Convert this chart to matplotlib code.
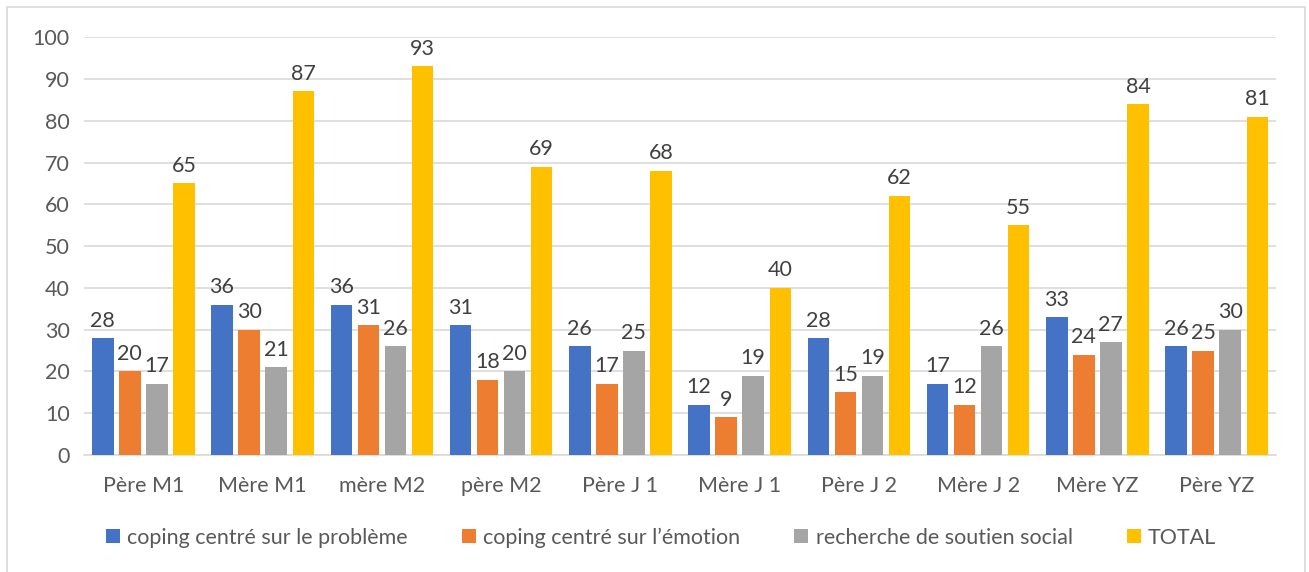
import matplotlib
matplotlib.use("Agg")
import matplotlib.pyplot as plt
from matplotlib.patches import Rectangle
import numpy as np

plt.rcParams["font.family"] = ["Lato", "DejaVu Sans"]

CATEGORIES = ["Père M1", "Mère M1", "mère M2", "père M2", "Père J 1",
              "Mère J 1", "Père J 2", "Mère J 2", "Mère YZ", "Père YZ"]
SERIES = ["coping centré sur le problème", "coping centré sur l\u2019émotion",
          "recherche de soutien social", "TOTAL"]
PROBLEME = [28, 36, 36, 31, 26, 12, 28, 17, 33, 26]
EMOTION = [20, 30, 31, 18, 17, 9, 15, 12, 24, 25]
SOUTIEN = [17, 21, 26, 20, 25, 19, 19, 26, 27, 30]
TOTAL = [65, 87, 93, 69, 68, 40, 62, 55, 84, 81]
COLORS = ["#4472C4", "#ED7D31", "#A5A5A5", "#FFC000"]

FS = 15.5

fig = plt.figure(figsize=(13.09, 5.72), dpi=100)
ax = fig.add_axes([0.064, 0.2045, 0.911, 0.7305])

x = np.arange(len(CATEGORIES))
width = 0.18
step = 0.227
values = [PROBLEME, EMOTION, SOUTIEN, TOTAL]
for i, (name, vals, col) in enumerate(zip(SERIES, values, COLORS)):
    pos = x + (i - 1.5) * step
    ax.bar(pos, vals, width, color=col, label=name, zorder=3)
    for xi, v in zip(pos, vals):
        ax.text(xi, v + 1.8, str(v), ha="center", va="bottom",
                fontsize=FS, color="#404040")

ax.set_xlim(-0.5, len(CATEGORIES) - 0.5)
ax.set_ylim(0, 100)
ax.set_yticks(range(0, 101, 10))
ax.set_xticks(x)
ax.set_xticklabels(CATEGORIES)
ax.tick_params(axis="both", length=0, labelsize=FS, labelcolor="#595959")
ax.tick_params(axis="x", pad=15)
ax.tick_params(axis="y", pad=10)
ax.grid(axis="y", color="#D9D9D9", linewidth=1.2, zorder=0)
for side in ["top", "right", "left"]:
    ax.spines[side].set_visible(False)
ax.spines["bottom"].set_color("#D9D9D9")
ax.spines["bottom"].set_linewidth(1.2)

leg = fig.legend(loc="center", bbox_to_anchor=(0.505, 0.06), ncol=4,
                 frameon=False, fontsize=FS, handlelength=0.65,
                 handleheight=0.65, handletextpad=0.35, columnspacing=2.5)
for t in leg.get_texts():
    t.set_color("#595959")

fig.patches.append(Rectangle((0.0055, -0.01), 0.9915, 0.998, transform=fig.transFigure,
                             fill=False, edgecolor="#D9D9D9", linewidth=1.2))

fig.savefig("out.png", dpi=100)
